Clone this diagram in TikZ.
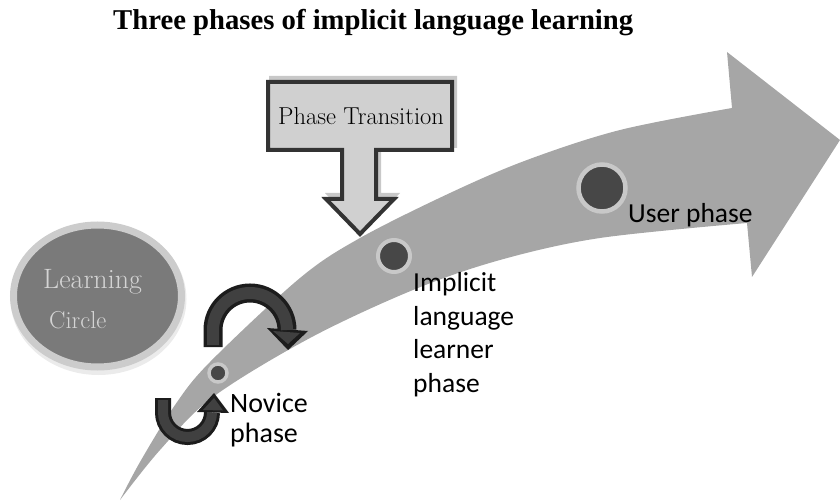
\documentclass[tikz,border=0pt]{standalone}
\usepackage{fontspec}
\newfontfamily\calib{Carlito}
\newfontfamily\tnr{Liberation Serif}
\usetikzlibrary{arrows.meta}
\definecolor{bandc}{HTML}{A6A6A6}
\definecolor{dotc}{HTML}{474747}
\definecolor{ringc}{HTML}{C8C8C8}
\definecolor{loopdark}{HTML}{1C1C1C}
\definecolor{loopmid}{HTML}{404040}
\definecolor{boxfill}{HTML}{D0D0D0}
\definecolor{boxline}{HTML}{333333}
\definecolor{shadowc}{HTML}{C8C8C8}
\definecolor{circfill}{HTML}{7A7A7A}
\definecolor{circring}{HTML}{CCCCCC}
\definecolor{circtext}{HTML}{D4D4D4}
\tikzset{
  dotstyle/.style={fill=dotc, draw=ringc},
  loopout/.style={draw=loopdark, line width=#1},
  loopin/.style={draw=loopmid, line width=#1},
  sanslabel/.style={anchor=base west, inner sep=0pt, align=left, text=black},
}
\begin{document}
\begin{tikzpicture}[x=1pt,y=-1pt]
\useasboundingbox (0,0) rectangle (840,502);

% big curved arrow
\fill[bandc] plot[smooth, tension=0.55] coordinates {(120,500) (140,462) (175,405) (210,362) (300,278) (360,238) (450,193) (527,160) (620,130) (732,108)}
  -- (727,52) -- (840,140) -- (752,277) -- (747,223)
  -- plot[smooth, tension=0.55] coordinates {(747,223) (600,238) (500,260) (413,290) (310,338) (213,397) (160,450) (120,500)} -- cycle;

% title
\node[anchor=base west, inner sep=0pt] (title) at (113,30)
  {\tnr\bfseries\fontsize{28.7}{32}\selectfont Three phases of implicit language learning};

% learning circle
\fill[gray!35, opacity=0.45] (98.5,299) ellipse [x radius=88, y radius=76];
\draw[draw=circring, line width=7, fill=circfill] (97.5,296) ellipse [x radius=84, y radius=71];
\node[anchor=base west, inner sep=0pt, text=circtext] (learn) at (43,289) {\fontsize{28}{32}\selectfont Learning};
\node[anchor=base west, inner sep=0pt, text=circtext] (circ) at (49,328) {\fontsize{24.5}{28}\selectfont Circle};

% phase transition callout
\begin{scope}[shift={(3,-4)}]
\fill[shadowc] (266,80) -- (454,80) -- (454,152) -- (378,152) -- (378,197) -- (397,197) -- (360,237) -- (322,197) -- (340,197) -- (340,152) -- (266,152) -- cycle;
\end{scope}
\draw[fill=boxfill, draw=boxline, line width=4, line join=miter] (268,82) -- (452,82) -- (452,150) -- (376,150) -- (376,199) -- (394,199) -- (360,234) -- (326,199) -- (342,199) -- (342,150) -- (268,150) -- cycle;
\node[anchor=base west, inner sep=0pt] (pt) at (278,125) {\fontsize{24.5}{28}\selectfont Phase Transition};

% dots
\draw[dotstyle, line width=3.5] (218,373) circle [radius=9];
\draw[dotstyle, line width=4] (394,256) circle [radius=16];
\draw[dotstyle, line width=4.5] (602,188) circle [radius=23.5];

% top loop arrow
\draw[loopout=19] (213,347) -- (213,330) arc [start angle=180, end angle=360, radius=37];
\fill[loopdark] (267,328) -- (308,331) -- (288,350) -- cycle;
\draw[loopin=12] (213,345) -- (213,330) arc [start angle=180, end angle=360, radius=37];
\fill[loopmid] (273,331) -- (300,333) -- (288,344) -- cycle;

% bottom loop arrow
\draw[loopout=16] (163,398) -- (163,412.5) arc [start angle=180, end angle=0, radius=24.5];
\fill[loopdark] (197,412) -- (229,413) -- (214,393) -- cycle;
\draw[loopin=10] (163,400) -- (163,412.5) arc [start angle=180, end angle=0, radius=24.5];
\fill[loopmid] (203,410) -- (223,410.5) -- (214,398) -- cycle;

% labels (multi-line nodes: base = baseline of last line)
\node[sanslabel, font=\calib\fontsize{27.5}{33}\selectfont] (user) at (628,223) {User phase};
\node[sanslabel, font=\calib\fontsize{27.5}{33.4}\selectfont] (impl) at (413,392) {Implicit\\language\\learner\\phase};
\node[sanslabel, font=\calib\fontsize{28}{29.5}\selectfont] (nov) at (230,442) {Novice\\phase};
\end{tikzpicture}
\end{document}
